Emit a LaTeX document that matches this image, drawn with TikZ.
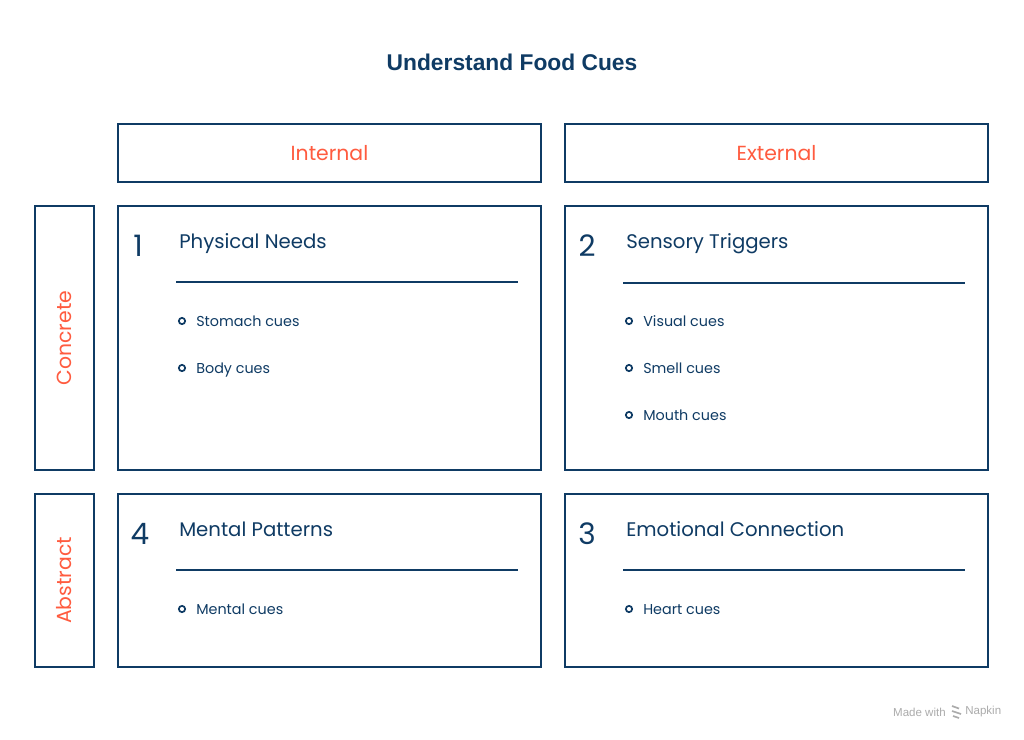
\documentclass[tikz,border=0pt]{standalone}
\usepackage{fontspec}
\setmainfont{Poppins}
\newfontfamily\titlefont{Liberation Sans}
\definecolor{navy}{HTML}{0F3B64}
\definecolor{coral}{HTML}{FF5B3F}
\definecolor{wmgrey}{HTML}{ABABAB}
\tikzset{
  frame/.style={draw=navy, line width=1.3pt, minimum width=10.575cm},
  sidebox/.style={draw=navy, line width=1.3pt, minimum width=1.475cm},
  axislabel/.style={text=coral, font=\fontsize{14.5}{16}\selectfont},
  number/.style={text=navy, font=\fontsize{21}{24}\selectfont},
  heading/.style={text=navy, font=\fontsize{14}{16}\selectfont, anchor=base west, inner sep=0pt},
  item/.style={text=navy, font=\fontsize{10.2}{12}\selectfont, anchor=west, inner sep=0pt, text height=0.9em, text depth=0.1em},
  dot/.style={draw=navy, line width=1.2pt, circle, inner sep=0pt, minimum size=4.5pt},
}
\begin{document}
\begin{tikzpicture}[x=0.025cm, y=-0.025cm]
\useasboundingbox[fill=white] (0,0) rectangle (1024,739);

\node[text=navy, font=\titlefont\bfseries\fontsize{16.2}{20}\selectfont] at (512,62) (title) {Understand Food Cues};

% column and row headings
\node[frame, minimum height=1.45cm] at (329.5,153) (internal) {};
\node[frame, minimum height=1.45cm] at (776.5,153) (external) {};
\node[axislabel] at (internal) {Internal};
\node[axislabel] at (external) {External};
\node[sidebox, minimum height=6.6cm] at (64.5,338) (concrete) {};
\node[sidebox, minimum height=4.325cm] at (64.5,580.5) (abstract) {};
\node[axislabel, rotate=90] at (concrete) {Concrete};
\node[axislabel, rotate=90] at (abstract) {Abstract};

% quadrants
\node[frame, minimum height=6.6cm] at (329.5,338) (physical) {};
\node[frame, minimum height=6.6cm] at (776.5,338) (sensory) {};
\node[frame, minimum height=4.325cm] at (329.5,580.5) (mental) {};
\node[frame, minimum height=4.325cm] at (776.5,580.5) (emotional) {};

\node[number] at (138,246) (n1) {1};
\node[number] at (587,246) (n2) {2};
\node[number] at (140,534) (n4) {4};
\node[number] at (587,534) (n3) {3};

\node[heading] at (179,248) (h1) {Physical Needs};
\node[heading] at (626,248) (h2) {Sensory Triggers};
\node[heading] at (179,536) (h4) {Mental Patterns};
\node[heading] at (626,536) (h3) {Emotional Connection};

\draw[navy, line width=1.3pt] (176,282) -- (518,282);
\draw[navy, line width=1.3pt] (623,283) -- (965,283);
\draw[navy, line width=1.3pt] (176,570) -- (518,570);
\draw[navy, line width=1.3pt] (623,570) -- (965,570);

% cues
\node[dot] at (182,321) (d11) {};
\node[item] at (196,321) (stomach) {Stomach cues};
\node[dot] at (182,368) (d12) {};
\node[item] at (196,368) (body) {Body cues};
\node[dot] at (629,321) (d21) {};
\node[item] at (643,321) (visual) {Visual cues};
\node[dot] at (629,368) (d22) {};
\node[item] at (643,368) (smell) {Smell cues};
\node[dot] at (629,415) (d23) {};
\node[item] at (643,415) (mouth) {Mouth cues};
\node[dot] at (182,609) (d41) {};
\node[item] at (196,609) (mentalcues) {Mental cues};
\node[dot] at (629,609) (d31) {};
\node[item] at (643,609) (heart) {Heart cues};

% watermark
\node[text=wmgrey, font=\titlefont\fontsize{8.2}{9}\selectfont, anchor=east, inner sep=0pt] at (946,712) (made) {Made with};
\draw[wmgrey, line width=1.2pt] (952,706) -- (959,708.5) (952,711) -- (961,714) (953,716) -- (959,718);
\node[text=wmgrey, font=\titlefont\fontsize{8.2}{9}\selectfont, anchor=west, inner sep=0pt] at (965,712) (napkin) {Napkin};
\end{tikzpicture}
\end{document}
